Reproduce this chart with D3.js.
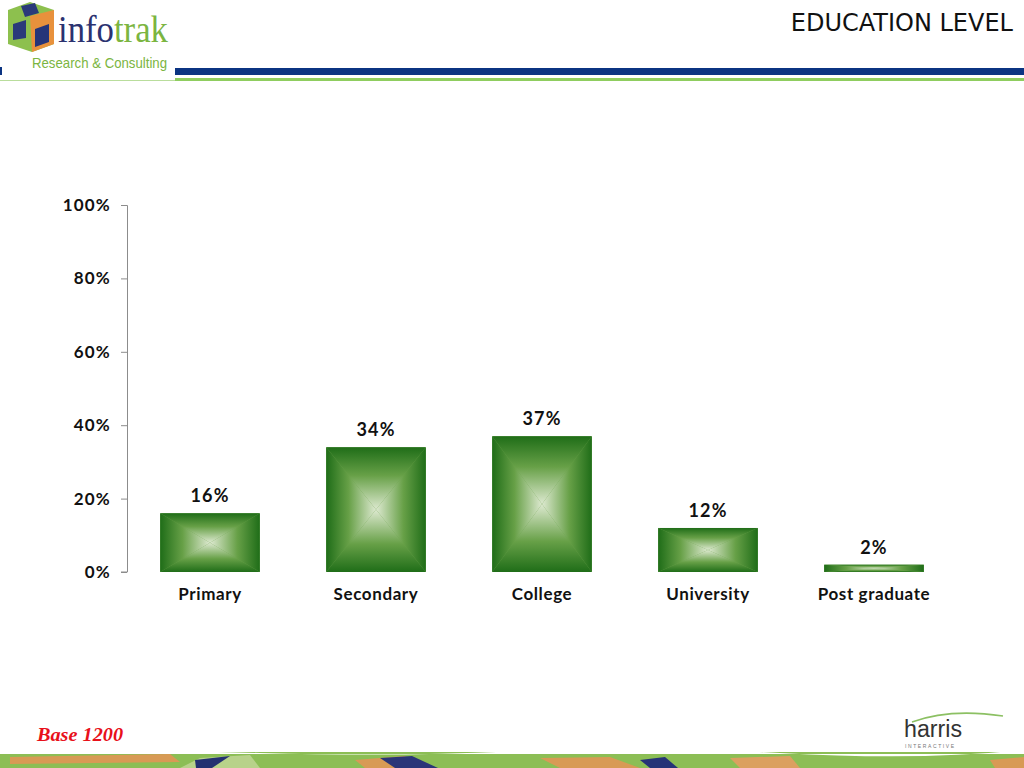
<!DOCTYPE html>
<html>
<head>
<meta charset="utf-8">
<script src="https://cdn.jsdelivr.net/npm/d3@7"></script>
<style>
  html, body { margin: 0; padding: 0; background: #fff; }
  svg { display: block; }
</style>
</head>
<body>
<div id="chart"></div>
<script>
var categories = ["Primary", "Secondary", "College", "University", "Post graduate"];
var values = [16, 34, 37, 12, 2];
var valueLabels = ["16%", "34%", "37%", "12%", "2%"];
var tickValues = [0, 20, 40, 60, 80, 100];
var title = "EDUCATION LEVEL";
var baseNote = "Base 1200";

var _width = 1024, _height = 768;
var _margins = { top: 205, left: 127, right: 67, bottom: 196 };

var svg = d3.select("#chart").append("svg")
  .attr("width", _width)
  .attr("height", _height);

var defs = svg.append("defs");
var dark = "#1f6d18", light = "#dde9d0";

// four edge gradients: edge dark -> centre light
[["g-top", 0, 0, 0, 1], ["g-bot", 0, 1, 0, 0], ["g-left", 0, 0, 1, 0], ["g-right", 1, 0, 0, 0]]
  .forEach(function(g) {
    var lg = defs.append("linearGradient").attr("id", g[0])
      .attr("x1", g[1]).attr("y1", g[2]).attr("x2", g[3]).attr("y2", g[4]);
    lg.append("stop").attr("offset", "0%").attr("stop-color", dark);
    lg.append("stop").attr("offset", "45%").attr("stop-color", "#67a047");
    lg.append("stop").attr("offset", "100%").attr("stop-color", light);
  });

// ---------- header ----------
var header = svg.append("g").attr("class", "header");
header.append("rect").attr("x", 175).attr("y", 68).attr("width", 849).attr("height", 7).attr("fill", "#0b3482");
header.append("rect").attr("x", 175).attr("y", 78).attr("width", 849).attr("height", 3).attr("fill", "#8fcd5f");
header.append("rect").attr("x", 0).attr("y", 80).attr("width", 175).attr("height", 1).attr("fill", "#b9dd9c");
header.append("rect").attr("x", 0).attr("y", 67).attr("width", 2).attr("height", 8).attr("fill", "#0b3482");

// logo cube
var logo = header.append("g").attr("transform", "translate(8,2)");
logo.append("polygon").attr("points", "0,8 22,0 46,8 46,42 24,50 0,42").attr("fill", "#8dc04e");
logo.append("polygon").attr("points", "22,14 46,8 46,42 24,50").attr("fill", "#e8913c");
logo.append("polygon").attr("points", "5,22 18,18 18,36 5,38").attr("fill", "#2a3a7a");
logo.append("polygon").attr("points", "27,27 41,22 41,40 27,45").attr("fill", "#253579");
logo.append("polygon").attr("points", "13,4 27,1 31,11 17,15").attr("fill", "#2a3a7a");
header.append("text").attr("x", 58).attr("y", 42)
  .attr("font-family", "Liberation Serif, serif").attr("font-size", 38)
  .attr("textLength", 110).attr("lengthAdjust", "spacingAndGlyphs")
  .attr("fill", "#2b3270")
  .text("info")
  .append("tspan").attr("fill", "#7bb541").text("trak");
header.append("text").attr("x", 32).attr("y", 68)
  .attr("font-family", "Liberation Sans Narrow, Liberation Sans, sans-serif").attr("font-size", 15)
  .attr("textLength", 135).attr("lengthAdjust", "spacingAndGlyphs")
  .attr("fill", "#7bb541").text("Research & Consulting");

header.append("text").attr("x", 1013).attr("y", 31)
  .attr("text-anchor", "end")
  .attr("font-family", "DejaVu Sans, sans-serif")
  .attr("font-size", 24).attr("fill", "#111")
  .text(title);

// ---------- chart ----------
var innerW = _width - _margins.left - _margins.right;
var innerH = _height - _margins.top - _margins.bottom;

var x = d3.scaleBand().domain(categories).range([0, innerW]).paddingInner(0.4).paddingOuter(0.2);
var y = d3.scaleLinear().domain([0, 100]).range([innerH, 0]);

var body = svg.append("g").attr("transform", "translate(" + _margins.left + "," + _margins.top + ")");

var yAxis = body.append("g").attr("class", "y-axis")
  .call(d3.axisLeft(y).tickValues(tickValues).tickSize(6).tickPadding(10)
    .tickFormat(function(d) { return d + "%"; }));
yAxis.select(".domain").attr("stroke", "#8c8c8c").attr("d", "M-6,0.5H0.5V" + innerH + "H-6");
yAxis.selectAll(".tick line").attr("stroke", "#8c8c8c");
yAxis.selectAll(".tick text")
  .attr("font-family", "Lato, sans-serif").attr("font-weight", "bold")
  .attr("font-size", 17).attr("letter-spacing", 1.2).attr("fill", "#111");

var bars = body.selectAll(".bar").data(categories).enter().append("g")
  .attr("class", "bar")
  .attr("transform", function(d, i) { return "translate(" + x(d) + "," + y(values[i]) + ")"; });

bars.each(function(d, i) {
  var g = d3.select(this);
  var w = x.bandwidth(), h = innerH - y(values[i]);
  var cx = w / 2, cy = h / 2;
  g.append("rect").attr("width", w).attr("height", h).attr("fill", "#67a047");
  g.append("polygon").attr("points", [[0, 0], [w, 0], [cx, cy]].join(" ")).attr("fill", "url(#g-top)");
  g.append("polygon").attr("points", [[0, h], [w, h], [cx, cy]].join(" ")).attr("fill", "url(#g-bot)");
  g.append("polygon").attr("points", [[0, 0], [0, h], [cx, cy]].join(" ")).attr("fill", "url(#g-left)");
  g.append("polygon").attr("points", [[w, 0], [w, h], [cx, cy]].join(" ")).attr("fill", "url(#g-right)");
});

body.selectAll(".val").data(categories).enter().append("text")
  .attr("class", "val")
  .attr("x", function(d) { return x(d) + x.bandwidth() / 2; })
  .attr("y", function(d, i) { return y(values[i]) - 11; })
  .attr("text-anchor", "middle")
  .attr("font-family", "Lato, sans-serif").attr("font-weight", "bold")
  .attr("font-size", 18).attr("letter-spacing", 1.2).attr("fill", "#111")
  .text(function(d, i) { return valueLabels[i]; });

body.selectAll(".cat").data(categories).enter().append("text")
  .attr("class", "cat")
  .attr("x", function(d) { return x(d) + x.bandwidth() / 2; })
  .attr("y", innerH + 28)
  .attr("text-anchor", "middle")
  .attr("font-family", "Lato, sans-serif").attr("font-weight", "bold")
  .attr("font-size", 17).attr("letter-spacing", 0.6).attr("fill", "#111")
  .text(function(d) { return d; });

// ---------- footer ----------
var footer = svg.append("g").attr("class", "footer");
footer.append("text").attr("x", 37).attr("y", 741)
  .attr("font-family", "Liberation Serif, serif").attr("font-style", "italic").attr("font-weight", "bold")
  .attr("font-size", 19).attr("textLength", 86).attr("lengthAdjust", "spacingAndGlyphs")
  .attr("fill", "#e8101a").text(baseNote);

footer.append("path").attr("d", "M912,722 Q950,708 1003,716").attr("fill", "none")
  .attr("stroke", "#8cc063").attr("stroke-width", 1.6);
footer.append("text").attr("x", 904).attr("y", 737)
  .attr("font-family", "Liberation Sans, sans-serif").attr("font-size", 23)
  .attr("textLength", 58).attr("lengthAdjust", "spacingAndGlyphs")
  .attr("fill", "#333").text("harris");
footer.append("text").attr("x", 905).attr("y", 748)
  .attr("font-family", "Liberation Sans, sans-serif").attr("font-size", 5)
  .attr("letter-spacing", 1.6).attr("fill", "#777").text("INTERACTIVE");

// decorative strip
var strip = footer.append("g");
strip.append("rect").attr("x", 0).attr("y", 752).attr("width", 1024).attr("height", 16).attr("fill", "#8cbe55");
strip.append("polygon").attr("points", "10,757 170,754 180,762 10,764").attr("fill", "#d89a55");
strip.append("polygon").attr("points", "200,758 250,755 260,768 180,768").attr("fill", "#b8d28a");
strip.append("polygon").attr("points", "195,760 230,756 212,768 196,768").attr("fill", "#233071");
strip.append("polygon").attr("points", "355,760 405,756 420,768 365,768").attr("fill", "#d89a55");
strip.append("polygon").attr("points", "380,758 412,756 438,768 395,768").attr("fill", "#2a3578");
strip.append("polygon").attr("points", "540,758 610,757 640,768 560,768").attr("fill", "#d89a55");
strip.append("polygon").attr("points", "640,760 665,757 678,768 650,768").attr("fill", "#263377");
strip.append("polygon").attr("points", "730,758 790,756 800,768 740,768").attr("fill", "#dba060");
strip.append("polygon").attr("points", "990,760 1024,757 1024,768 995,768").attr("fill", "#d89a55");
strip.append("path").attr("d", "M0,752 Q120,749 260,753 T520,751 T780,753 T1024,750 V754 H0Z").attr("fill", "#fff");
</script>
</body>
</html>
